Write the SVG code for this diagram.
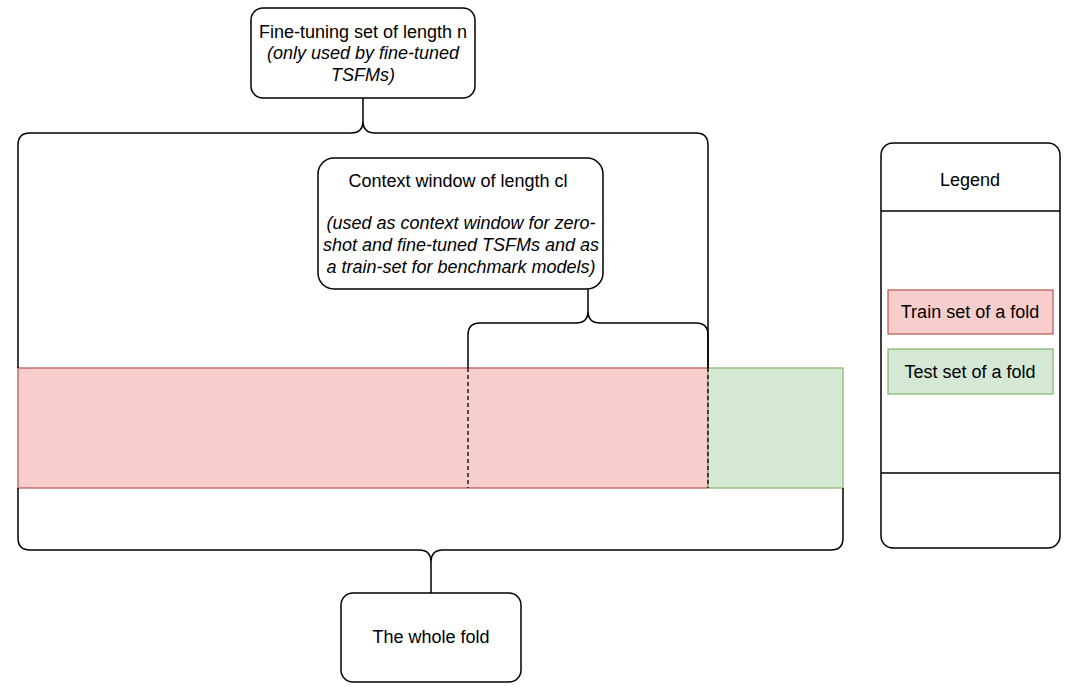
<svg xmlns="http://www.w3.org/2000/svg" width="1070" height="694" viewBox="0 0 1070 694">
<style>
.box{fill:#fff;stroke:#000;stroke-width:1.5}
.t{font-family:"Liberation Sans",Arial,sans-serif;font-size:18px;fill:#000;text-anchor:middle}
.i{font-style:italic}
.brace{fill:none;stroke:#000;stroke-width:1.5}
.dash{fill:none;stroke:#000;stroke-width:1.3;stroke-dasharray:4 3}
.train{fill:#f8cecc;stroke:#b85450;stroke-width:1.2}
.test{fill:#d5e8d4;stroke:#82b366;stroke-width:1.2}
</style>
<rect width="1070" height="694" fill="#fff"/>
<g id="train-area"><rect class="train" x="18" y="368" width="690" height="120"/></g>
<g id="test-area"><rect class="test" x="708" y="368" width="135" height="120"/></g>
<g id="connectors">
<path class="brace" d="M18,368 V145 Q18,133 30,133 H351 Q363,133 363,121 V98 M363,121 Q363,133 375,133 H696 Q708,133 708,145 V368"/>
<path class="brace" d="M468,368 V335 Q468,323 480,323 H576 Q588,323 588,311 V289 M588,311 Q588,323 600,323 H696 Q708,323 708,335 V368"/>
<path class="brace" d="M18,488 V538 Q18,550 30,550 H419 Q431,550 431,562 V593 M431,562 Q431,550 443,550 H831 Q843,550 843,538 V488"/>
<path class="dash" d="M468,368 V488 M708,368 V488"/>
</g>
<g id="fine-tuning">
<rect class="box" x="251" y="8" width="224" height="90" rx="12"/>
<text class="t" x="363" y="38">Fine-tuning set of length n</text>
<text class="t i" x="363" y="59">(only used by fine-tuned</text>
<text class="t i" x="363" y="81">TSFMs)</text>
</g>
<g id="context-window">
<rect class="box" x="318" y="158" width="285" height="131" rx="16"/>
<text class="t" x="458" y="187">Context window of length cl</text>
<text class="t i" x="461" y="229">(used as context window for zero-</text>
<text class="t i" x="461" y="251">shot and fine-tuned TSFMs and as</text>
<text class="t i" x="461" y="273">a train-set for benchmark models)</text>
</g>
<g id="whole-fold">
<rect class="box" x="341" y="593" width="180" height="89" rx="12"/>
<text class="t" x="431" y="643">The whole fold</text>
</g>
<g id="legend">
<rect class="box" x="881" y="143" width="179" height="405" rx="12"/>
<path class="brace" d="M881,211 H1060 M881,473 H1060"/>
<text class="t" x="970" y="186">Legend</text>
<rect class="train" x="888" y="290" width="165" height="44"/>
<text class="t" x="970" y="318">Train set of a fold</text>
<rect class="test" x="888" y="349" width="165" height="45"/>
<text class="t" x="970" y="378">Test set of a fold</text>
</g>
</svg>
